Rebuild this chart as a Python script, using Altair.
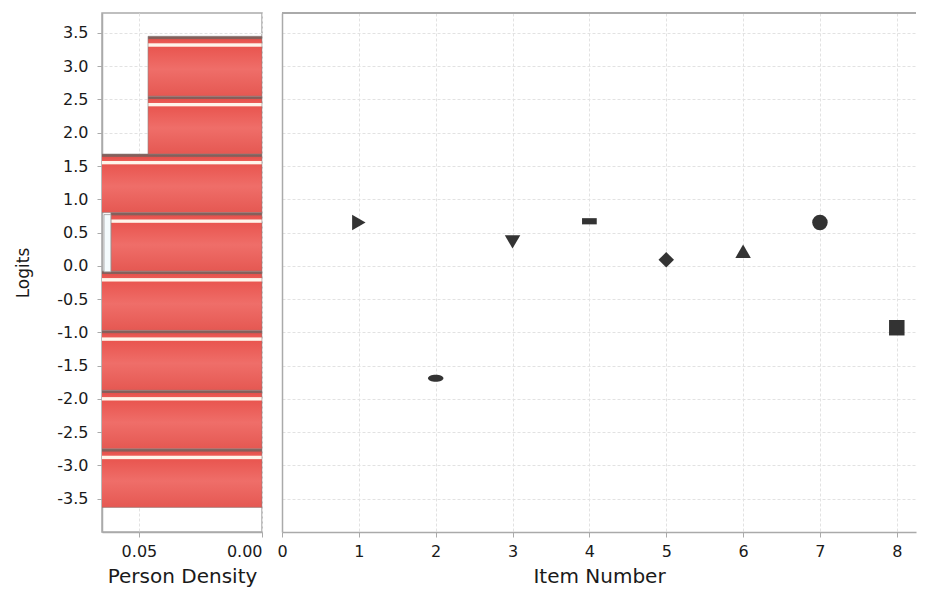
import altair as alt
import pandas as pd

# ---- data ----
bin_lo = [-3.63, -2.75, -1.87, -0.97, -0.08, 0.80, 1.68, 2.55]
bin_hi = [-2.75, -1.87, -0.97, -0.08, 0.80, 1.68, 2.55, 3.45]
density = [0.070, 0.070, 0.070, 0.070, 0.0614, 0.070, 0.0463, 0.0463]

sliver_lo = [-0.09]
sliver_hi = [0.77]
sliver_from = [0.0642]
sliver_to = [0.0614]

items = [1, 2, 3, 4, 5, 6, 7, 8]
logits = [0.65, -1.69, 0.36, 0.67, 0.09, 0.22, 0.65, -0.93]

y_ticks = [-3.5, -3.0, -2.5, -2.0, -1.5, -1.0, -0.5, 0.0, 0.5, 1.0, 1.5, 2.0, 2.5, 3.0, 3.5]
x_ticks_density = [0.05, 0.0]
x_ticks_items = [0, 1, 2, 3, 4, 5, 6, 7, 8]

ellipse = "M-1,0 A1,0.45 0 1,0 1,0 A1,0.45 0 1,0 -1,0 Z"
flatrect = "M-0.95,-0.4 L0.95,-0.4 L0.95,0.4 L-0.95,0.4 Z"
shape_range = ["triangle-right", ellipse, "triangle-down", flatrect,
               "diamond", "triangle-up", "circle", "square"]

df_h = pd.DataFrame({"lo": bin_lo, "hi": bin_hi, "density": density})
df_s = pd.DataFrame({"lo": sliver_lo, "hi": sliver_hi, "density": sliver_from, "b": sliver_to})
df_i = pd.DataFrame({"item": items, "logit": logits})

FONT = "DejaVu Sans"
H = 519
W_RIGHT = 634
yscale = alt.Scale(domain=[-4.0, 3.8], nice=False, zero=False)
xdens = alt.Scale(domain=[0, 0.065], reverse=True, nice=False, zero=False)
ylab = "replace(format(datum.value, '.1f'), '\u2212', '-')"

x_axis_left = alt.Axis(values=x_ticks_density, format=".2f", title="Person Density",
                       labelFlush=True, labelOverlap=False, grid=True)
y_axis_left = alt.Axis(values=y_ticks, labelExpr=ylab, title="Logits", labelOverlap=False,
                       labelFlush=False, labelPadding=9, titlePadding=24, titleFontSize=17,
                       grid=True)

grad = alt.LinearGradient(
    gradient="linear", x1=0, y1=0, x2=0, y2=1,
    stops=[
        alt.GradientStop(offset=0.0, color="#7d5f5b"),
        alt.GradientStop(offset=0.04, color="#8a5e59"),
        alt.GradientStop(offset=0.055, color="#e4524d"),
        alt.GradientStop(offset=0.11, color="#eb5a54"),
        alt.GradientStop(offset=0.125, color="#fff4ea"),
        alt.GradientStop(offset=0.165, color="#fff4ea"),
        alt.GradientStop(offset=0.185, color="#e95650"),
        alt.GradientStop(offset=0.55, color="#ef6e69"),
        alt.GradientStop(offset=1.0, color="#e55852"),
    ],
)

hist = alt.Chart(df_h).mark_rect(clip=True, color=grad, stroke="#8a7a78", strokeWidth=0.6).encode(
    x=alt.X("density:Q", scale=xdens, axis=x_axis_left),
    x2=alt.datum(0),
    y=alt.Y("lo:Q", scale=yscale, axis=y_axis_left),
    y2="hi:Q",
)

sliver = alt.Chart(df_s).mark_rect(clip=True, color="#f4fbfd", stroke="#9a9a9a", strokeWidth=0.8).encode(
    x=alt.X("density:Q", scale=xdens, axis=x_axis_left),
    x2="b:Q",
    y=alt.Y("lo:Q", scale=yscale, axis=y_axis_left),
    y2="hi:Q",
)

left = alt.layer(hist, sliver).properties(width=160, height=H)

pts = alt.Chart(df_i).mark_point(filled=True, size=240, color="#333333", opacity=1).encode(
    x=alt.X("item:Q", scale=alt.Scale(domain=[0, 8.25], nice=False, zero=False),
            axis=alt.Axis(values=x_ticks_items, format="d", title="Item Number",
                          labelFlush=False, labelOverlap=False, grid=True, domain=True)),
    y=alt.Y("logit:Q", scale=yscale,
            axis=alt.Axis(values=y_ticks, labels=False, ticks=False, title=None, grid=True, domain=True)),
    shape=alt.Shape("item:N", scale=alt.Scale(domain=items, range=shape_range), legend=None),
)

topline = alt.Chart(df_i).mark_rule(color="#aaaaaa", strokeWidth=1.5).encode(
    x=alt.value(0), x2=alt.value(W_RIGHT), y=alt.value(0)
)

right = alt.layer(pts, topline).properties(width=W_RIGHT, height=H, view=alt.ViewBackground(stroke=None))

chart = alt.hconcat(left, right, spacing=20, bounds="flush").properties(
    padding={"left": 6, "top": 4, "right": 0, "bottom": 0}
).configure_view(
    stroke="#aaaaaa", strokeWidth=1.5
).configure_axis(
    labelFont=FONT, titleFont=FONT, labelFontSize=16, titleFontSize=20,
    labelColor="#1a1a1a", titleColor="#1a1a1a", titleFontWeight="normal",
    domainColor="#aaaaaa", domainWidth=1.5, tickColor="#aaaaaa", tickSize=5,
    gridColor="#e2e2e2", gridDash=[3, 2], gridWidth=1,
    labelPadding=6, titlePadding=7, labelOverlap=False,
)

chart.save("out.html", embed_options={"renderer": "svg", "actions": False})
